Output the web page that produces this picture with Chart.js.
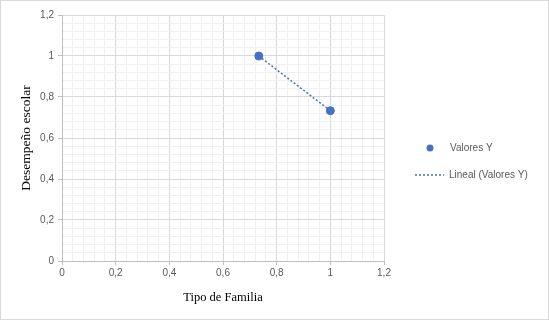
<!DOCTYPE html>
<html>
<head>
<meta charset="utf-8">
<script src="https://cdn.jsdelivr.net/npm/chart.js@4.4.1/dist/chart.umd.min.js"></script>
<style>
  html, body { margin: 0; padding: 0; background: #fff; }
  #wrap { width: 549px; height: 320px; position: relative; }
</style>
</head>
<body>
<div id="wrap"><canvas id="chart" width="549" height="320"></canvas></div>
<script>
// datos
var tipoFamilia = [0.7333, 1];
var desempeno = [1, 0.7333];
var serieNombre = 'Valores Y';
var tendenciaNombre = 'Lineal (Valores Y)';
var tituloX = 'Tipo de Familia';
var tituloY = 'Desempeño escolar';

var azul = '#4472C4';

// tendencia lineal (minimos cuadrados) sobre los datos
function lineal(xs, ys) {
  var n = xs.length, sx = 0, sy = 0, sxy = 0, sxx = 0;
  for (var i = 0; i < n; i++) { sx += xs[i]; sy += ys[i]; sxy += xs[i] * ys[i]; sxx += xs[i] * xs[i]; }
  var m = (n * sxy - sx * sy) / (n * sxx - sx * sx);
  var b = (sy - m * sx) / n;
  var x0 = Math.min.apply(null, xs), x1 = Math.max.apply(null, xs);
  return [{x: x0, y: m * x0 + b}, {x: x1, y: m * x1 + b}];
}

var puntos = tipoFamilia.map(function(x, i) { return {x: x, y: desempeno[i]}; });

function esMayor(v) { return Math.round(v * 100) % 20 === 0; }
function etiqueta(v) { return esMayor(v) ? String(Math.round(v * 10) / 10).replace('.', ',') : ''; }
function gridColor(ctx) { return esMayor(ctx.tick.value) ? '#d9d9d9' : '#f0f0f0'; }
function tickColor(ctx) { return esMayor(ctx.tick.value) ? '#bfbfbf' : 'rgba(0,0,0,0)'; }

var tickFont = { family: 'Liberation Sans', size: 10 };

var marco = {
  id: 'marco',
  beforeDraw: function(chart) {
    var c = chart.ctx;
    c.save();
    c.fillStyle = '#fff';
    c.fillRect(0, 0, chart.width, chart.height);
    c.strokeStyle = '#d9d9d9';
    c.lineWidth = 1;
    c.strokeRect(0.5, 0.5, chart.width - 1, chart.height - 1);
    c.restore();
  },
  afterDraw: function(chart) {
    var c = chart.ctx;
    c.save();
    c.font = '10px "Liberation Sans"';
    c.textBaseline = 'middle';
    // Valores Y
    c.fillStyle = azul;
    c.beginPath();
    c.arc(430, 148, 3.5, 0, Math.PI * 2);
    c.fill();
    c.fillStyle = '#595959';
    c.fillText(serieNombre, 450, 148);
    // Lineal
    c.strokeStyle = azul;
    c.lineWidth = 1.5;
    c.setLineDash([2, 2]);
    c.beginPath();
    c.moveTo(415, 175);
    c.lineTo(444, 175);
    c.stroke();
    c.setLineDash([]);
    c.fillText(tendenciaNombre, 449, 175);
    c.restore();
  }
};

new Chart(document.getElementById('chart'), {
  type: 'scatter',
  data: {
    datasets: [
      {
        label: tendenciaNombre,
        type: 'line',
        data: lineal(tipoFamilia, desempeno),
        borderColor: azul,
        borderWidth: 1.5,
        borderDash: [2, 2],
        pointRadius: 0,
        fill: false
      },
      {
        label: serieNombre,
        data: puntos,
        backgroundColor: azul,
        borderColor: azul,
        pointRadius: 4,
        pointHoverRadius: 4
      }
    ]
  },
  options: {
    responsive: false,
    animation: false,
    layout: { padding: { top: 15, right: 165, left: 0, bottom: 0 } },
    plugins: {
      legend: { display: false },
      tooltip: { enabled: false }
    },
    scales: {
      x: {
        type: 'linear',
        min: 0, max: 1.2,
        border: { color: '#bfbfbf' },
        grid: { color: gridColor, tickColor: tickColor, tickLength: 4 },
        ticks: { stepSize: 0.04, autoSkip: false, maxRotation: 0, color: '#595959', font: tickFont, padding: 2, callback: etiqueta },
        title: { display: true, text: tituloX, color: '#000', font: { family: 'Liberation Serif', size: 12.5 }, padding: { top: 8, bottom: 15 } },
        afterFit: function(s) { s.height = 59; }
      },
      y: {
        type: 'linear',
        min: 0, max: 1.2,
        border: { color: '#bfbfbf' },
        grid: { color: gridColor, tickColor: tickColor, tickLength: 4 },
        ticks: { stepSize: 0.04, autoSkip: false, color: '#595959', font: tickFont, padding: 4, callback: etiqueta },
        title: { display: true, text: tituloY, color: '#000', font: { family: 'Liberation Serif', size: 13.5 }, padding: { top: 18, bottom: 0 } },
        afterFit: function(s) { s.width = 62; }
      }
    }
  },
  plugins: [marco]
});
</script>
</body>
</html>
